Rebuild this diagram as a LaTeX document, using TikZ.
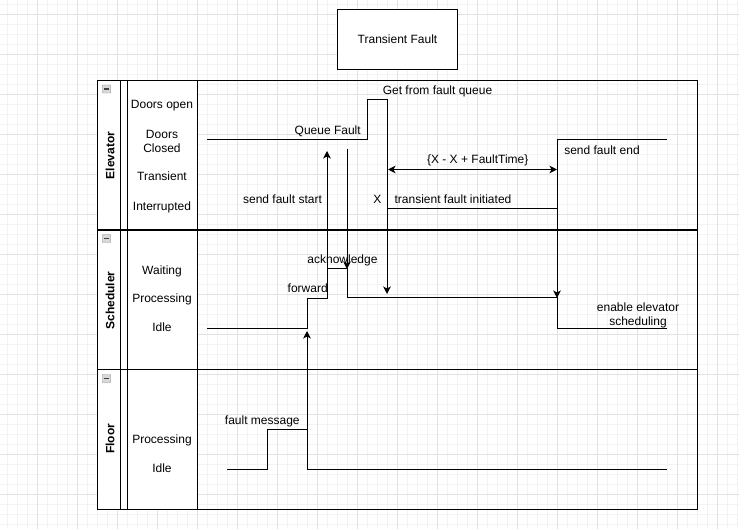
\documentclass[tikz,border=0pt]{standalone}
\usepackage{fontspec}
\setmainfont{Liberation Sans}
\usetikzlibrary{arrows.meta}
\definecolor{gridmajor}{HTML}{e2e2e2}
\definecolor{gridminor}{HTML}{f3f3f3}
\definecolor{collapsefill}{HTML}{d9d9d9}
\newcommand{\collapseline}{black!45}
\tikzset{
  signal/.style={line width=1pt, line join=miter},
  msg/.style={line width=1pt, -{Stealth[length=7.5pt,width=7.5pt,inset=2pt]}},
  span/.style={line width=1pt, {Stealth[length=7.5pt,width=7.5pt,inset=2pt]}-{Stealth[length=7.5pt,width=7.5pt,inset=2pt]}},
  txt/.style={inner sep=0pt, text height=11pt, text depth=3pt},
  state/.style={txt},
  twoline/.style={inner sep=0pt, align=center},
  lanetitle/.style={inner sep=0pt, rotate=90, font=\fontsize{12}{14}\selectfont\bfseries},
  collapse/.style={draw=\collapseline, fill=collapsefill, minimum width=8.5pt, minimum height=8pt,
    inner sep=0pt, rounded corners=.6pt,
    path picture={\draw[line width=1.4pt, black!75] ([xshift=2pt]path picture bounding box.west) -- ([xshift=-2pt]path picture bounding box.east);}}
}

\begin{document}
\begin{tikzpicture}[x=1pt, y=-1pt, font=\fontsize{12}{14}\selectfont]
      \useasboundingbox (0,0) rectangle (739,529);

      % background grid
      \foreach \gx in {7,17,...,737} \draw[gridminor, line width=.8pt] (\gx,0) -- (\gx,529);
      \foreach \gy in {4,14,...,524} \draw[gridminor, line width=.8pt] (0,\gy) -- (739,\gy);
      \foreach \gx in {37,77,...,717} \draw[gridmajor, line width=.9pt] (\gx,0) -- (\gx,529);
      \foreach \gy in {14,54,...,494} \draw[gridmajor, line width=.9pt] (0,\gy) -- (739,\gy);

      % title
      \node[draw, line width=1pt, fill=white, minimum width=120pt, minimum height=60pt, inner sep=0pt] (title) at (397.5,39.3) {Transient Fault};

      % pool and lanes
      \fill[white] (97,81) rectangle (197,509);
      \begin{scope}[line width=1pt]
      \draw (97,81) rectangle (697,509);
      \draw (120,81) -- (120,509);
      \draw (127,81) -- (127,509);
      \draw (197,81) -- (197,509);
      \draw[line width=2pt] (97,230) -- (697,230);
      \draw (97,369) -- (697,369);
      \end{scope}

      % collapse buttons
      \node[collapse] (elevatorbtn) at (106.5,89) {};
      \node[collapse] (schedulerbtn) at (106.5,238.5) {};
      \node[collapse] (floorbtn) at (106.5,378.5) {};

      % lane titles
      \node[lanetitle] (elevator) at (110,155.5) {Elevator};
      \node[lanetitle] (scheduler) at (110,300.5) {Scheduler};
      \node[lanetitle] (floor) at (110,439) {Floor};

      % states
      \node[state] (doorsopen) at (162,105) {Doors open};
      \node[twoline] (doorsclosed) at (162,141) {Doors\\Closed};
      \node[state] (transient) at (162,177) {Transient};
      \node[state] (interrupted) at (162,207) {Interrupted};
      \node[state] (waiting) at (162,271) {Waiting};
      \node[state] (processing) at (162,299) {Processing};
      \node[state] (idle) at (162,328) {Idle};
      \node[state] (floorprocessing) at (162,439) {Processing};
      \node[state] (flooridle) at (162,468) {Idle};

      % elevator waveform
      \draw[signal] (207,140) -- (367,140) -- (367,100) -- (387,100) -- (387,209) -- (557,209) -- (557,140) -- (667,140);
      % scheduler waveform
      \draw[signal] (207,329) -- (307,329) -- (307,299) -- (327,299) -- (327,269) -- (347,269) -- (347,298) -- (557,298) -- (557,329) -- (667,329);
      % floor waveform
      \draw[signal] (227,469) -- (267,469) -- (267,429) -- (307,429) -- (307,469) -- (667,469);

      % message ends
      \coordinate (fwdfrom) at (307,429);
      \coordinate (fwdto) at (307,331);
      \coordinate (startfrom) at (327,269);
      \coordinate (startto) at (327,151);
      \coordinate (ackfrom) at (347,149);
      \coordinate (ackto) at (347,269);
      \coordinate (getfrom) at (387,100);
      \coordinate (getto) at (387,294);
      \coordinate (endfrom) at (557,209);
      \coordinate (endto) at (557,298);
      \coordinate (spanfrom) at (388,169.5);
      \coordinate (spanto) at (557,169.5);

      % messages
      \draw[msg] (fwdfrom) -- (fwdto);
      \draw[msg] (startfrom) -- (startto);
      \draw[msg] (ackfrom) -- (ackto);
      \draw[msg] (getfrom) -- (getto);
      \draw[msg] (endfrom) -- (endto);
      \draw[span] (spanfrom) -- (spanto);

      % labels
      \node[txt] (getlbl) at (437.5,91) {Get from fault queue};
      \node[txt] (queuelbl) at (327.7,131) {Queue Fault};
      \node[txt] (startlbl) at (282.5,200) {send fault start};
      \node[txt] (xlbl) at (377.3,200) {X};
      \node[txt] (initlbl) at (453,200) {transient fault initiated};
      \node[txt] (spanlbl) at (477.7,160) {\{X - X + FaultTime\}};
      \node[txt] (endlbl) at (602,151) {send fault end};
      \node[txt] (acklbl) at (342.5,260) {acknowledge};
      \node[txt] (fwdlbl) at (307.7,289) {forward};
      \node[twoline] (enablelbl) at (638,315) {enable elevator\\scheduling};
      \node[txt] (msglbl) at (262.3,420) {fault message};
    \end{tikzpicture}
\end{document}
